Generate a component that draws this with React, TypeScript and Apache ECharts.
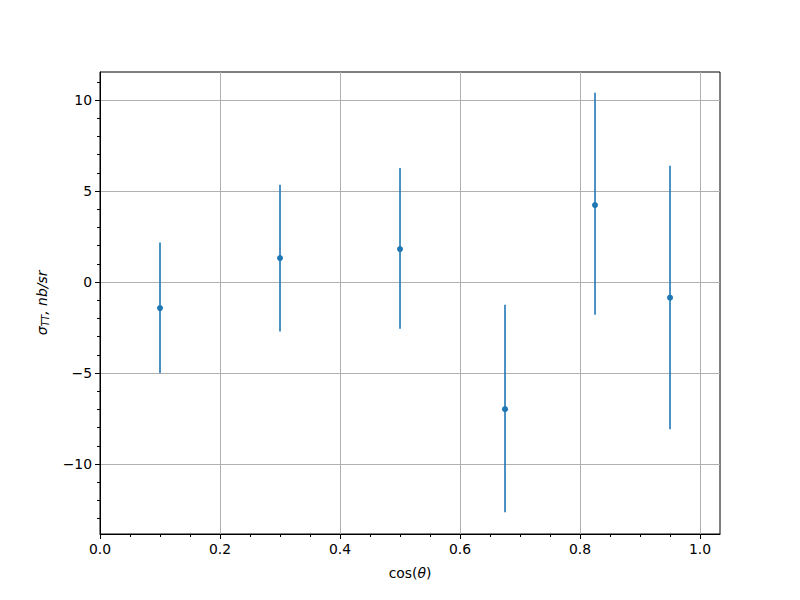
import React, { useEffect, useRef } from "react";
import * as echarts from "echarts";

const xValues = [0.1, 0.3, 0.5, 0.675, 0.825, 0.95];
const yCenter = [-1.43, 1.32, 1.81, -6.98, 4.23, -0.86];
const yLow = [-5.0, -2.71, -2.57, -12.64, -1.8, -8.08];
const yHigh = [2.17, 5.35, 6.26, -1.25, 10.4, 6.39];
const xMajorTicks = [0, 0.2, 0.4, 0.6, 0.8, 1.0];
const xMinorTicks = [0.05, 0.1, 0.15, 0.25, 0.3, 0.35, 0.45, 0.5, 0.55, 0.65, 0.7, 0.75, 0.85, 0.9, 0.95];
const yMajorTicks = [-10, -5, 0, 5, 10];
const yMinorTicks = [-13, -12, -11, -9, -8, -7, -6, -4, -3, -2, -1, 1, 2, 3, 4, 6, 7, 8, 9, 11];

const X_MIN = 0;
const X_MAX = 1.0333;
const Y_MIN = -13.84;
const Y_MAX = 11.54;

const BLUE = "#1f77b4";
const FONT = "DejaVu Sans";

export default function App() {
  const ref = useRef<HTMLDivElement>(null);
  useEffect(() => {
    if (!ref.current) return;
    const chart = echarts.init(ref.current, undefined, { renderer: "svg" });
    const errData = xValues.map((x, i) => [x, yLow[i], yHigh[i]]);
    const ptData = xValues.map((x, i) => [x, yCenter[i]]);
    chart.setOption({
      animation: false,
      backgroundColor: "#ffffff",
      grid: {
        left: 100,
        top: 72,
        width: 620,
        height: 462,
        show: true,
        borderColor: "#000000",
        borderWidth: 1,
        backgroundColor: "transparent",
      },
      xAxis: [
        {
          type: "value",
          min: X_MIN,
          max: X_MAX,
          name: "{n|cos(}{i|\u03B8}{n|)}",
          nameLocation: "middle",
          nameGap: 32,
          nameTextStyle: {
            fontFamily: FONT,
            fontSize: 13.9,
            color: "#000",
            rich: {
              n: { fontFamily: FONT, fontSize: 13.9, color: "#000" },
              i: { fontFamily: FONT, fontSize: 13.9, fontStyle: "italic", color: "#000" },
            },
          },
          axisLine: { show: true, onZero: false, lineStyle: { color: "#000", width: 1 } },
          axisTick: {
            show: true,
            inside: false,
            length: 5,
            customValues: xMajorTicks,
            lineStyle: { color: "#000" },
          },
          axisLabel: {
            fontFamily: FONT,
            fontSize: 13.9,
            color: "#000",
            margin: 8,
            customValues: xMajorTicks,
            formatter: (v: number) => v.toFixed(1),
          },
          splitLine: { show: true, lineStyle: { color: "#b0b0b0", width: 1 } },
        },
        {
          type: "value",
          min: X_MIN,
          max: X_MAX,
          position: "bottom",
          axisLine: { show: false, onZero: false },
          axisTick: {
            show: true,
            inside: false,
            length: 3,
            customValues: xMinorTicks,
            lineStyle: { color: "#000" },
          },
          axisLabel: { show: false },
          splitLine: { show: false },
        },
      ],
      yAxis: [
        {
          type: "value",
          min: Y_MIN,
          max: Y_MAX,
          name: "{s|\u03C3}{sub|TT}{s|, nb/sr}",
          nameLocation: "middle",
          nameGap: 50,
          nameRotate: 90,
          nameTextStyle: {
            fontFamily: FONT,
            fontSize: 13.9,
            color: "#000",
            rich: {
              s: { fontFamily: FONT, fontSize: 13.9, fontStyle: "italic", color: "#000" },
              sub: {
                fontFamily: FONT,
                fontSize: 9.7,
                fontStyle: "italic",
                color: "#000",
                padding: [7, 0, 0, 0],
              },
            },
          },
          axisLine: { show: true, onZero: false, lineStyle: { color: "#000", width: 1 } },
          axisTick: {
            show: true,
            inside: false,
            length: 5,
            customValues: yMajorTicks,
            lineStyle: { color: "#000" },
          },
          axisLabel: {
            fontFamily: FONT,
            fontSize: 13.9,
            color: "#000",
            margin: 8,
            customValues: yMajorTicks,
            formatter: (v: number) => (v < 0 ? "\u2212" + Math.abs(v) : String(v)),
          },
          splitLine: { show: true, lineStyle: { color: "#b0b0b0", width: 1 } },
        },
        {
          type: "value",
          min: Y_MIN,
          max: Y_MAX,
          position: "left",
          axisLine: { show: false, onZero: false },
          axisTick: {
            show: true,
            inside: false,
            length: 3,
            customValues: yMinorTicks,
            lineStyle: { color: "#000" },
          },
          axisLabel: { show: false },
          splitLine: { show: false },
        },
      ],
      series: [
        {
          type: "custom",
          xAxisIndex: 0,
          yAxisIndex: 0,
          data: errData,
          clip: false,
          renderItem: (params: any, api: any) => {
            const x = api.value(0);
            const p1 = api.coord([x, api.value(1)]);
            const p2 = api.coord([x, api.value(2)]);
            return {
              type: "line",
              shape: { x1: p1[0], y1: p1[1], x2: p2[0], y2: p2[1] },
              style: { stroke: BLUE, lineWidth: 1.6 },
            };
          },
        },
        {
          type: "scatter",
          xAxisIndex: 0,
          yAxisIndex: 0,
          data: ptData,
          symbol: "circle",
          symbolSize: 6,
          itemStyle: { color: BLUE, opacity: 1 },
          z: 5,
        },
      ],
    });
    return () => chart.dispose();
  }, []);
  return <div ref={ref} style={{ width: 800, height: 600, position: "absolute", left: 0, top: 0 }} />;
}
